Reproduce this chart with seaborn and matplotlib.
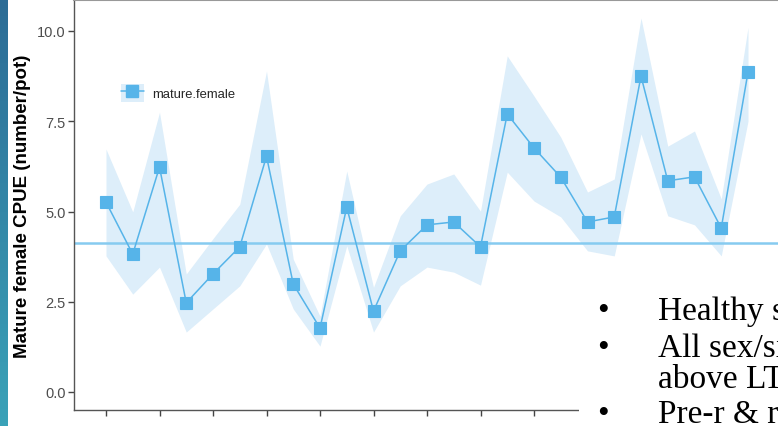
import numpy as np
import pandas as pd
import matplotlib.pyplot as plt
import seaborn as sns
from matplotlib.patches import Rectangle, Patch
from matplotlib.lines import Line2D
from matplotlib.legend_handler import HandlerTuple

# -----------------------------
# Data
# -----------------------------
survey = list(range(25))
cpue = [5.26, 3.82, 6.23, 2.47, 3.27, 4.02, 6.53, 2.99, 1.77, 5.12,
        2.24, 3.91, 4.63, 4.71, 4.02, 7.70, 6.76, 5.95, 4.71, 4.85,
        8.75, 5.85, 5.96, 4.54, 8.86]
upper = [6.73, 4.99, 7.75, 3.27, 4.25, 5.20, 8.89, 3.68, 2.10, 6.12,
         2.90, 4.88, 5.76, 6.04, 5.01, 9.31, 8.20, 7.06, 5.54, 5.90,
         10.36, 6.81, 7.23, 5.35, 10.10]
lower = [3.77, 2.71, 3.46, 1.66, 2.30, 2.94, 4.10, 2.30, 1.27, 4.05,
         1.66, 2.94, 3.46, 3.32, 2.96, 6.09, 5.29, 4.85, 3.91, 3.77,
         7.15, 4.88, 4.63, 3.77, 7.50]
long_term_avg = 4.13

y_ticks = [0.0, 2.5, 5.0, 7.5, 10.0]
bullets = ["Healthy s", "All sex/si", "above LT", "Pre-r & r"]
bullet_marks = ["\u2022", "\u2022", "", "\u2022"]

df = pd.DataFrame({"survey": survey, "cpue": cpue, "lo": lower, "hi": upper})

LINE = "#56B4E9"
RIBBON = "#DDEEFA"

# -----------------------------
# Figure
# -----------------------------
sns.set_style("white")
plt.rcParams["font.family"] = ["Liberation Sans", "DejaVu Sans"]

W, H = 778, 427
fig = plt.figure(figsize=(W / 100, H / 100), dpi=100)

# slide strip on the left edge
strip = fig.add_axes([0, 0, 8 / W, 1])
grad = np.linspace(0, 1, 100).reshape(-1, 1)
strip.imshow(grad, aspect="auto",
             cmap=plt.matplotlib.colors.LinearSegmentedColormap.from_list(
                 "slide", ["#2c6c96", "#3aa2b8"]))
strip.axis("off")

ax = fig.add_axes([74 / W, 16 / H, (W - 74) / W, 410 / H])

ax.fill_between(df["survey"], df["lo"], df["hi"], color=RIBBON, lw=0, zorder=1)
ax.axhline(long_term_avg, color="#86cbf0", lw=1.8, zorder=2)
sns.lineplot(data=df, x="survey", y="cpue", ax=ax, color=LINE, lw=1.1,
             marker="s", markersize=9, markeredgecolor=LINE,
             markeredgewidth=0.8, zorder=3, legend=False)

ax.set_xlim(-32 / 26.75, (W - 106) / 26.75)
ax.set_ylim(-18 / 36.1, 10 + 31 / 36.1)
ax.set_xticks(survey[::2])
ax.set_xticklabels([])
ax.set_yticks(y_ticks)
ax.set_yticklabels([f"{v:.1f}" for v in y_ticks])
ax.tick_params(axis="both", length=4, width=1, color="#444444",
               labelsize=10.5, labelcolor="#4d4d4d", pad=2,
               left=True, bottom=True)
ax.set_xlabel("")
ax.set_ylabel("Mature female CPUE (number/pot)", fontsize=13.5,
              fontweight="bold", color="black", labelpad=4)

for side in ["left", "bottom"]:
    ax.spines[side].set_color("#555555")
    ax.spines[side].set_linewidth(1)
ax.spines["top"].set_color("#999999")
ax.spines["top"].set_linewidth(1.5)
ax.spines["right"].set_visible(False)

# legend with ribbon-filled key
key = (Patch(facecolor=RIBBON, edgecolor="none"),
       Line2D([], [], color=LINE, lw=1.1, marker="s", markersize=8))
ax.legend([key], ["mature.female"], handler_map={tuple: HandlerTuple(ndivide=1, pad=0)},
          loc="center left", bbox_to_anchor=(121 / W, 1 - 94 / H),
          bbox_transform=fig.transFigure, frameon=False, fontsize=9.4,
          handlelength=1.75, handleheight=1.7, handletextpad=0.65,
          borderpad=0, borderaxespad=0)

# slide text box covering the lower right
fig.patches.append(Rectangle((579 / W, 0), 1, 1 - 272 / H, transform=fig.transFigure,
                             facecolor="white", edgecolor="none", zorder=5))
baselines = [320, 357, 388, 423]
for mark, txt, yb in zip(bullet_marks, bullets, baselines):
    if mark:
        fig.text(597 / W, 1 - yb / H, mark, fontsize=24, family="Liberation Serif",
                 va="baseline", color="black", zorder=6)
    fig.text(658 / W, 1 - yb / H, txt, fontsize=24, family="Liberation Serif",
             va="baseline", color="black", zorder=6)

plt.savefig("out.png", dpi=100)
plt.close()
